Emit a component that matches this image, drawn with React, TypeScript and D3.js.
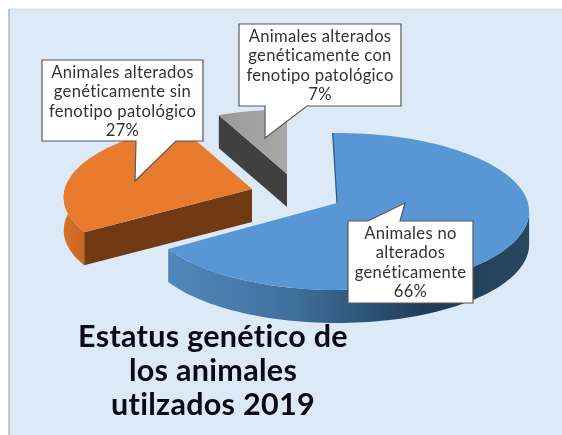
import React from "react";
import * as d3 from "d3";

const categories = [
  ["Animales no", "alterados", "genéticamente", "66%"],
  ["Animales alterados", "genéticamente sin", "fenotipo patológico", "27%"],
  ["Animales alterados", "genéticamente con", "fenotipo patológico", "7%"],
];
const values = [66, 27, 7];
const topColors = ["#5896d5", "#e97b2e", "#a5a5a5"];
const titleLines = ["Estatus genético de", "los animales", "utilzados 2019"];

const W = 562, H = 435;
const RX = 191, RY = 77.6, K = 0.108, DEPTH = 33;
const BLUE_TILT = 0.025;
const apexes: [number, number][] = [[337, 203], [252, 189], [287, 174]];
const sliceScale = [1, 0.98, 0.92];

function project(angle: number, apex: [number, number], r = 1): [number, number] {
  const u = Math.sin(angle), v = Math.cos(angle);
  const s = 1 / (1 + K * v);
  return [apex[0] + RX * r * u * s, apex[1] - RY * r * v * s];
}
const lineGen = d3.line<[number, number]>().x(d => d[0]).y(d => d[1]);
function arcPts(a0: number, a1: number, apex: [number, number], r = 1) {
  const n = 80;
  return d3.range(n + 1).map(i => project(a0 + (a1 - a0) * i / n, apex, r));
}
const down = (pts: [number, number][]) => pts.map(p => [p[0], p[1] + DEPTH] as [number, number]);

const boxes = [
  { x: 348, y: 221, w: 125, h: 82, tip: [405, 203], b0: 368, b1: 400 },
  { x: 42, y: 60, w: 161, h: 81, tip: [135, 181], b0: 136, b1: 176 },
  { x: 239, y: 24, w: 162, h: 82, tip: [265, 138], b0: 265, b1: 307 },
];

export default function App() {
  const arcs = d3.pie<number>().sort(null)(values);
  const blue = arcs[0], orange = arcs[1], gray = arcs[2];
  const blue0 = blue.startAngle - BLUE_TILT, blue1 = blue.endAngle - BLUE_TILT;
  const blueWall = arcPts(Math.PI / 2 + 0.11, blue1, apexes[0]);
  const orangeWall = arcPts(orange.startAngle, 1.5 * Math.PI + 0.1, apexes[1], sliceScale[1]);
  const oA = project(orange.startAngle, apexes[1], sliceScale[1]);
  const gA = project(gray.startAngle, apexes[2], sliceScale[2]);

  return (
    <svg width={W} height={H} style={{ position: "absolute", left: 0, top: 0, filter: "blur(0.5px)", fontVariantLigatures: "none" }}>
      <defs>
        <linearGradient id="blueSide" gradientUnits="userSpaceOnUse" x1={170} x2={529} y1={0} y2={0}>
          <stop offset="0" stopColor="#5088bb" />
          <stop offset="0.35" stopColor="#3f6f9b" />
          <stop offset="0.72" stopColor="#1f3b55" />
          <stop offset="1" stopColor="#284862" />
        </linearGradient>
        <linearGradient id="orangeSide" gradientUnits="userSpaceOnUse" x1={64} x2={90} y1={0} y2={0}>
          <stop offset="0" stopColor="#d9722b" />
          <stop offset="1" stopColor="#c0621f" />
        </linearGradient>
        <linearGradient id="grayTop" gradientUnits="userSpaceOnUse" x1={218} x2={287} y1={0} y2={0}>
          <stop offset="0" stopColor="#9a9a9a" />
          <stop offset="1" stopColor="#a8a8a8" />
        </linearGradient>
      </defs>
      <rect x={0} y={0} width={W} height={H} fill="#ffffff" />
      <rect x={9} y={9} width={W - 9} height={H - 9} fill="#dce9f6" />
      <line x1={9} y1={9} x2={9} y2={H} stroke="#b5b8bb" strokeWidth={1.5} />
      <line x1={9} y1={9} x2={W} y2={9} stroke="#d6dfe6" strokeWidth={1} />

      {/* orange slice */}
      <path d={lineGen([...orangeWall, ...down(orangeWall).reverse()])! + "Z"} fill="url(#orangeSide)" />
      <path d={lineGen([oA, apexes[1], [apexes[1][0], apexes[1][1] + DEPTH], [oA[0], oA[1] + DEPTH]])! + "Z"} fill="#713a14" />
      <path d={lineGen([apexes[1], ...arcPts(orange.startAngle, orange.endAngle, apexes[1], sliceScale[1])])! + "Z"} fill={topColors[1]} />

      {/* gray slice */}
      <path d={lineGen([gA, apexes[2], [apexes[2][0], apexes[2][1] + DEPTH], [gA[0], gA[1] + DEPTH]])! + "Z"} fill="#404040" />
      <path d={lineGen([apexes[2], ...arcPts(gray.startAngle, gray.endAngle, apexes[2], sliceScale[2])])! + "Z"} fill="url(#grayTop)" />

      {/* blue slice */}
      <path d={lineGen([...blueWall, ...down(blueWall).reverse()])! + "Z"} fill="url(#blueSide)" />
      <path d={lineGen([apexes[0], ...arcPts(blue0, blue1, apexes[0])])! + "Z"} fill={topColors[0]} />
      <path d={lineGen([project(blue0, apexes[0]), apexes[0]])!} stroke="#2f5375" strokeWidth={1.2} fill="none" />

      {/* callouts */}
      {boxes.map((b, i) => {
        const d = i === 0
          ? `M${b.x},${b.y}H${b.b0}L${b.tip[0]},${b.tip[1]}L${b.b1},${b.y}H${b.x + b.w}V${b.y + b.h}H${b.x}Z`
          : `M${b.x},${b.y}H${b.x + b.w}V${b.y + b.h}H${b.b1}L${b.tip[0]},${b.tip[1]}L${b.b0},${b.y + b.h}H${b.x}Z`;
        return (
          <g key={i}>
            <path d={d} fill="#ffffff" stroke="#595959" strokeWidth={1.2} />
            {categories[i].map((t, j) => (
              <text key={j} x={b.x + b.w / 2} y={b.y + 18 + j * 19.3} textAnchor="middle"
                fontFamily="Lato, 'Open Sans', sans-serif" fontSize={16.6} letterSpacing={0.3} fill="#333333">{t}</text>
            ))}
          </g>
        );
      })}

      {/* title */}
      {titleLines.map((t, i) => (
        <text key={i} x={213} y={347 + i * 34} textAnchor="middle"
          fontFamily="Lato, 'Open Sans', sans-serif" fontWeight={700} fontSize={30.5} letterSpacing={0.3} fill="#0a0a14">{t}</text>
      ))}
    </svg>
  );
}
